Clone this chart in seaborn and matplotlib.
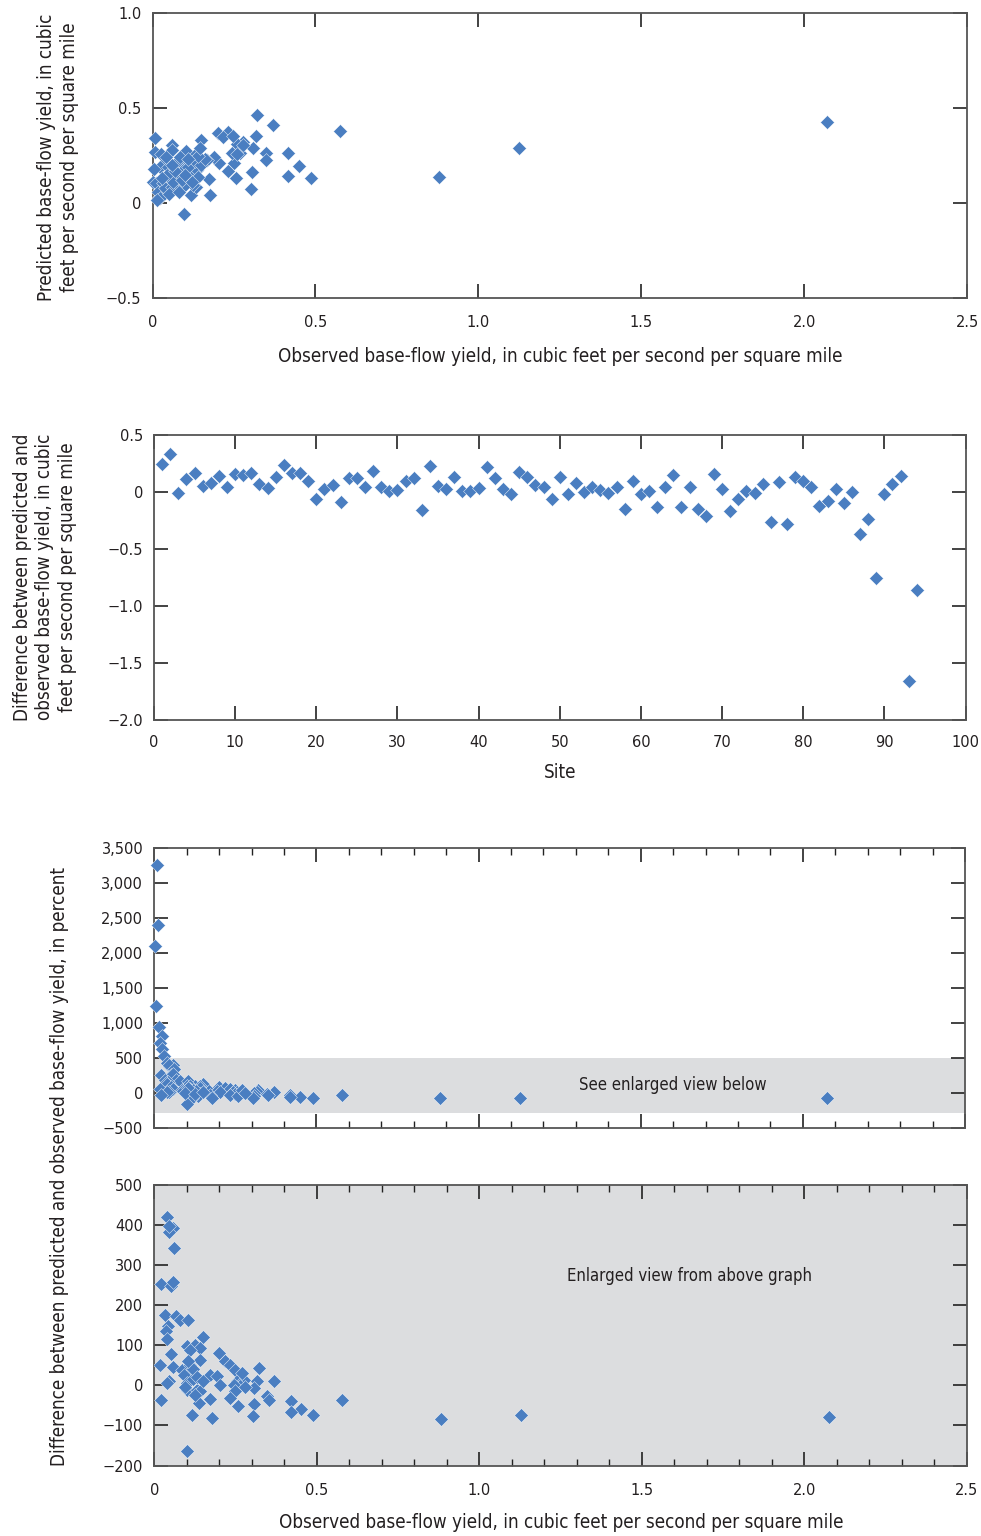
import numpy as np
import pandas as pd
import matplotlib
matplotlib.use("Agg")
import matplotlib.pyplot as plt
import seaborn as sns
from matplotlib import font_manager as fm
from matplotlib.ticker import MultipleLocator, FuncFormatter

# ---------------- data ----------------
# Panel 1: observed vs predicted base-flow yield (ft3/s/mi2)
obs_yield = [0.32, 0.37, 0.575, 0.88, 1.125, 2.07, 0.009, 0.098, 0.318, 0.417, 0.449, 0.415, 0.487,
             0.348, 0.348, 0.304, 0.302, 0.307, 0.256, 0.233, 0.251, 0.243, 0.269, 0.277, 0.258,
             0.202, 0.233, 0.217, 0.246, 0.176, 0.172, 0.203, 0.189, 0.149, 0.117, 0.134, 0.061,
             0.060, 0.021, 0.008, 0.026,
             0.103, 0.134, 0.120, 0.095, 0.074, 0.038, 0.023, 0.049, 0.095, 0.115, 0.136, 0.140,
             0.105, 0.125, 0.003, 0.011, 0.033, 0.054, 0.018, 0.038, 0.059, 0.023, 0.015, 0.084,
             0.079, 0.064, 0.100, 0.166, 0.258, 0.279,
             0.045, 0.070, 0.090, 0.110, 0.130, 0.150, 0.160, 0.030, 0.050, 0.080, 0.100, 0.120,
             0.140, 0.005, 0.040, 0.085, 0.060, 0.110, 0.145]
pred_yield = [0.465, 0.41, 0.377, 0.138, 0.288, 0.425, 0.34, -0.058, 0.353, 0.264, 0.196, 0.143, 0.129,
              0.264, 0.225, 0.164, 0.073, 0.292, 0.133, 0.168, 0.208, 0.264, 0.264, 0.321, 0.309,
              0.368, 0.374, 0.347, 0.355, 0.042, 0.124, 0.211, 0.243, 0.334, 0.042, 0.082, 0.304,
              0.278, 0.030, 0.267, 0.260,
              0.274, 0.260, 0.208, 0.208, 0.216, 0.216, 0.190, 0.190, 0.173, 0.156, 0.173, 0.138,
              0.129, 0.094, 0.112, 0.103, 0.103, 0.112, 0.059, 0.077, 0.085, 0.025, 0.016, 0.138,
              0.094, 0.112, 0.094, 0.225, 0.260, 0.304,
              0.150, 0.170, 0.120, 0.190, 0.220, 0.200, 0.230, 0.130, 0.050, 0.060, 0.150, 0.110,
              0.250, 0.180, 0.240, 0.240, 0.200, 0.230, 0.290]

# Panel 2: difference (predicted - observed) by site
sites = list(range(1, 95))
diff_yield = [0.25, 0.33, -0.01, 0.11, 0.17, 0.05, 0.08, 0.14, 0.04, 0.16,
              0.15, 0.17, 0.07, 0.035, 0.13, 0.24, 0.17, 0.17, 0.095, -0.06,
              0.025, 0.065, -0.085, 0.12, 0.125, 0.045, 0.18, 0.04, 0.01, 0.02,
              0.10, 0.12, -0.16, 0.23, 0.05, 0.03, 0.135, 0.01, 0.01, 0.035,
              0.22, 0.125, 0.03, -0.015, 0.175, 0.13, 0.065, 0.04, -0.06, 0.135,
              -0.02, 0.08, 0.0, 0.04, 0.015, -0.01, 0.04, -0.15, 0.10, -0.02,
              0.01, -0.135, 0.04, 0.15, -0.135, 0.04, -0.15, -0.21, 0.16, 0.03,
              -0.17, -0.06, 0.01, -0.01, 0.07, -0.26, 0.09, -0.285, 0.13, 0.095,
              0.04, -0.125, -0.08, 0.03, -0.10, 0.0, -0.37, -0.24, -0.75, -0.02,
              0.07, 0.14, -1.66, -0.86]

# Panels 3 & 4: percent difference vs observed yield
obs_pct = [0.009, 0.012, 0.002, 0.005, 0.015, 0.023, 0.017, 0.025, 0.030,
           0.038, 0.059, 0.044, 0.046, 0.061, 0.020, 0.050, 0.059, 0.033, 0.067, 0.079, 0.103,
           0.043, 0.036, 0.038, 0.149, 0.102, 0.126, 0.141, 0.051, 0.110, 0.200, 0.018, 0.059,
           0.084, 0.110, 0.141, 0.218, 0.234, 0.249, 0.321, 0.110, 0.090, 0.170, 0.192, 0.046,
           0.038, 0.100, 0.120, 0.203, 0.254, 0.275, 0.265, 0.316, 0.369, 0.244, 0.306, 0.100,
           0.131, 0.141, 0.249, 0.020, 0.172, 0.234, 0.347, 0.352, 0.136, 0.259, 0.306, 0.419,
           0.450, 0.419, 0.489, 0.578, 0.117, 0.177, 0.304, 0.100, 0.882, 1.129, 2.074,
           0.120, 0.130, 0.105, 0.095, 0.125, 0.150, 0.270, 0.280]
pct_diff = [3261, 2394, 2094, 1237, 937, 809, 714, 619, 530,
            421, 392, 382, 398, 343, 253, 247, 259, 176, 174, 162, 164,
            147, 135, 116, 121, 99, 101, 93, 78, 87, 81, 52, 47,
            39, 52, 64, 60, 52, 39, 43, 31, 27, 27, 24, 12,
            6, 7, 15, 2, 10, 14, -2, 10, 12, 2, -6, -11,
            -11, -15, -15, -36, -33, -31, -27, -36, -44, -51, -46, -38,
            -58, -66, -75, -36, -73, -81, -77, -163, -83, -73, -78,
            40, 20, 60, -5, -25, 10, 30, -5]

# ---------------- style ----------------
sns.set_style("ticks")

# pick a condensed font if one is installed
_fonts = fm.fontManager.ttflist
_names = {f.name for f in _fonts}
if "Liberation Sans Narrow" in _names:
    FAM, STRETCH = "Liberation Sans Narrow", "normal"
elif any(f.name == "DejaVu Sans" and str(f.stretch) in ("condensed", "semi-condensed") for f in _fonts):
    FAM, STRETCH = "DejaVu Sans", "condensed"
else:
    FAM, STRETCH = "Liberation Sans", "normal"
plt.rcParams['font.family'] = [FAM, 'DejaVu Sans']
plt.rcParams['font.stretch'] = STRETCH
plt.rcParams['axes.unicode_minus'] = True
TXT = "#231F20"
plt.rcParams['text.color'] = TXT
plt.rcParams['xtick.color'] = TXT
plt.rcParams['ytick.color'] = TXT

MARK = "#4A7EC1"
GRAY = "#DCDDDF"
SPINE = "#555555"

W, H = 981, 1536
fig = plt.figure(figsize=(W / 100, H / 100), dpi=100)

XLAB = "Observed base-flow yield, in cubic feet per second per square mile"
# size the fonts so the axis title has the reference width (~569 px)
_t = fig.text(0.5, 0.5, XLAB, fontsize=14)
fig.canvas.draw()
_w = _t.get_window_extent(renderer=fig.canvas.get_renderer()).width
_t.remove()
LAB_FS = 14 * 569.0 / _w
TICK_FS = LAB_FS * 0.87
ANN_FS = LAB_FS * 0.89


def add_ax(left, top, right, bottom):
    return fig.add_axes([left / W, 1 - bottom / H, (right - left) / W, (bottom - top) / H])


def style(ax, xpad=12):
    for s in ax.spines.values():
        s.set_visible(True)
        s.set_color(SPINE)
        s.set_linewidth(1.3)
    ax.tick_params(which='major', direction='in', length=10, width=1.2, color='#222222',
                   top=True, right=True, labelsize=TICK_FS)
    ax.tick_params(which='minor', direction='in', length=5, width=1.0, color='#222222',
                   top=True, right=True)
    ax.tick_params(axis='x', which='major', pad=xpad)
    ax.tick_params(axis='y', which='major', pad=8)
    ax.set_xlabel("")
    ax.set_ylabel("")


def fmt_num(v, dec):
    if abs(v) < 1e-9:
        return "0"
    s = f"{v:,.{dec}f}"
    return s.replace("-", "\u2212")


scat_kw = dict(marker="D", s=50, color=MARK, edgecolor="white", linewidth=0.3, legend=False, zorder=3)

# ---------- Panel 1 ----------
ax1 = add_ax(152.5, 13, 967, 298)
df1 = pd.DataFrame({"obs": obs_yield, "pred": pred_yield})
sns.scatterplot(data=df1, x="obs", y="pred", ax=ax1, clip_on=False, **scat_kw)
ax1.set_xlim(0, 2.5)
ax1.set_ylim(-0.5, 1.0)
ax1.xaxis.set_major_locator(MultipleLocator(0.5))
ax1.yaxis.set_major_locator(MultipleLocator(0.5))
ax1.xaxis.set_major_formatter(FuncFormatter(lambda v, p: fmt_num(v, 1)))
ax1.yaxis.set_major_formatter(FuncFormatter(lambda v, p: fmt_num(v, 1)))
style(ax1, xpad=12.5)
fig.text(560 / W, 1 - 356 / H, XLAB, ha="center", va="center", fontsize=LAB_FS)
fig.text(58 / W, 1 - 157 / H, "Predicted base-flow yield, in cubic\nfeet per second per square mile",
         ha="center", va="center", rotation=90, fontsize=LAB_FS, multialignment="center",
         linespacing=1.22)

# ---------- Panel 2 ----------
ax2 = add_ax(154, 435, 965.5, 720)
df2 = pd.DataFrame({"site": sites, "diff": diff_yield})
sns.scatterplot(data=df2, x="site", y="diff", ax=ax2, clip_on=False, **scat_kw)
ax2.set_xlim(0, 100)
ax2.set_ylim(-2.0, 0.5)
ax2.xaxis.set_major_locator(MultipleLocator(10))
ax2.yaxis.set_major_locator(MultipleLocator(0.5))
ax2.xaxis.set_major_formatter(FuncFormatter(lambda v, p: fmt_num(v, 0)))
ax2.yaxis.set_major_formatter(FuncFormatter(lambda v, p: fmt_num(v, 1)))
style(ax2, xpad=10.5)
fig.text(560 / W, 1 - 773 / H, "Site", ha="center", va="center", fontsize=LAB_FS)
fig.text(45 / W, 1 - 577 / H,
         "Difference between predicted and\nobserved base-flow yield, in cubic\nfeet per second per square mile",
         ha="center", va="center", rotation=90, fontsize=LAB_FS, multialignment="center",
         linespacing=1.25)

# ---------- Panel 3 ----------
ax3 = add_ax(154.3, 848, 965, 1127.5)
df3 = pd.DataFrame({"obs": obs_pct, "pct": pct_diff})
ax3.axhspan(-290, 500, color=GRAY, zorder=0, lw=0)
sns.scatterplot(data=df3, x="obs", y="pct", ax=ax3, clip_on=False, **scat_kw)
ax3.set_xlim(0, 2.5)
ax3.set_ylim(-500, 3500)
ax3.xaxis.set_major_locator(MultipleLocator(0.5))
ax3.xaxis.set_minor_locator(MultipleLocator(0.1))
ax3.yaxis.set_major_locator(MultipleLocator(500))
ax3.yaxis.set_major_formatter(FuncFormatter(lambda v, p: fmt_num(v, 0)))
style(ax3)
ax3.tick_params(axis='x', labelbottom=False)
ax3.text(1.6, 104, "See enlarged view below", ha="center", va="center", fontsize=ANN_FS, zorder=4)

# ---------- Panel 4 ----------
ax4 = add_ax(154.3, 1185, 967, 1465.5)
ax4.set_facecolor(GRAY)
sns.scatterplot(data=df3, x="obs", y="pct", ax=ax4, **scat_kw)
ax4.set_xlim(0, 2.5)
ax4.set_ylim(-200, 500)
ax4.xaxis.set_major_locator(MultipleLocator(0.5))
ax4.xaxis.set_minor_locator(MultipleLocator(0.1))
ax4.yaxis.set_major_locator(MultipleLocator(100))
ax4.xaxis.set_major_formatter(FuncFormatter(lambda v, p: fmt_num(v, 1)))
ax4.yaxis.set_major_formatter(FuncFormatter(lambda v, p: fmt_num(v, 0)))
style(ax4, xpad=12.5)
ax4.text(1.646, 274, "Enlarged view from above graph", ha="center", va="center", fontsize=ANN_FS, zorder=4)
fig.text(561 / W, 1 - 1522 / H, XLAB, ha="center", va="center", fontsize=LAB_FS)
fig.text(60 / W, 1 - 1166 / H,
         "Difference between predicted and observed base-flow yield, in percent",
         ha="center", va="center", rotation=90, fontsize=LAB_FS)

fig.savefig("out.png", dpi=100)
